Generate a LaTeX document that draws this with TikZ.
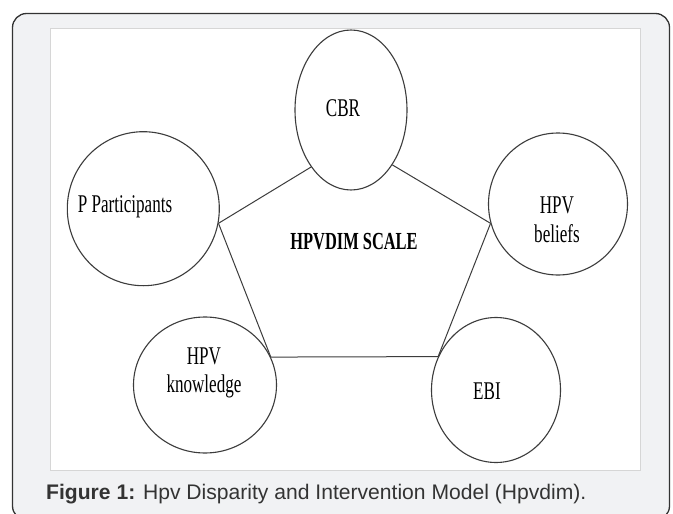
\documentclass[tikz,border=0pt]{standalone}
\usepackage{fontspec}
\usepackage{xcolor}
\usetikzlibrary{positioning, shapes.geometric}
\newfontfamily\diagfont{Liberation Serif}[FakeStretch=0.67]
\newfontfamily\capfont{Liberation Sans}
\definecolor{panelgray}{HTML}{F1F2F4}
\definecolor{framegray}{HTML}{D6D6D6}
\definecolor{inkgray}{HTML}{3C3C3C}
\definecolor{capgray}{HTML}{333333}
\tikzset{
    bubble/.style={ellipse, draw=inkgray, line width=1.1pt, fill=white, inner sep=0pt},
    lbl/.style={font=\diagfont\fontsize{25.5}{28.5}\selectfont, align=center, inner sep=0pt}
}

\begin{document}
\begin{tikzpicture}[x=1pt, y=-1pt]
        \useasboundingbox (0, 0) rectangle (673, 514);
        \draw [fill=panelgray, draw=capgray, line width=1.3pt, rounded corners=14pt] (12.5, 13.5) rectangle (669.5, 520);
        \draw [fill=white, draw=framegray, line width=0.8pt] (50, 28.7) rectangle (640.5, 470);

        \node [bubble, minimum width=112, minimum height=160] (CBR) at (351, 110) {};
        \node [bubble, minimum width=152, minimum height=154] (PP) at (143.3, 208.7) {};
        \node [bubble, minimum width=139, minimum height=142] (HB) at (558, 204) {};
        \node [bubble, minimum width=143, minimum height=136] (HK) at (205, 385) {};
        \node [bubble, minimum width=129, minimum height=145] (EBI) at (496, 390) {};

        \node [lbl] (CBRtext) at (343, 108) {CBR};
        \node [lbl] (PPtext) at (125, 207) {P Participants};
        \node [lbl] (HBtext) at (557, 220) {HPV\\beliefs};
        \node [lbl] (HKtext) at (204, 373) {HPV\\knowledge};
        \node [lbl] (EBItext) at (487, 391) {EBI};
        \node [lbl, font=\diagfont\bfseries\fontsize{24.5}{28}\selectfont] (scale) at (354, 242) {HPVDIM SCALE};

        \draw [inkgray, line width=1pt] (PP.-11) -- (CBR.-125);
        \draw [inkgray, line width=1pt] (CBR.-53) -- (HB.196);
        \draw [inkgray, line width=1pt] (PP.-11) -- (HK.23.5);
        \draw [inkgray, line width=1pt] (HB.196) -- (EBI.150.7);
        \draw [inkgray, line width=1pt] (HK.23.5) -- (EBI.150.7);

        \node [anchor=base west, inner sep=0pt, text=capgray, font=\capfont\fontsize{21.1}{24}\selectfont] (caption) at (46, 499.5) {\textbf{Figure 1:} Hpv Disparity and Intervention Model (Hpvdim).};
    \end{tikzpicture}
\end{document}
